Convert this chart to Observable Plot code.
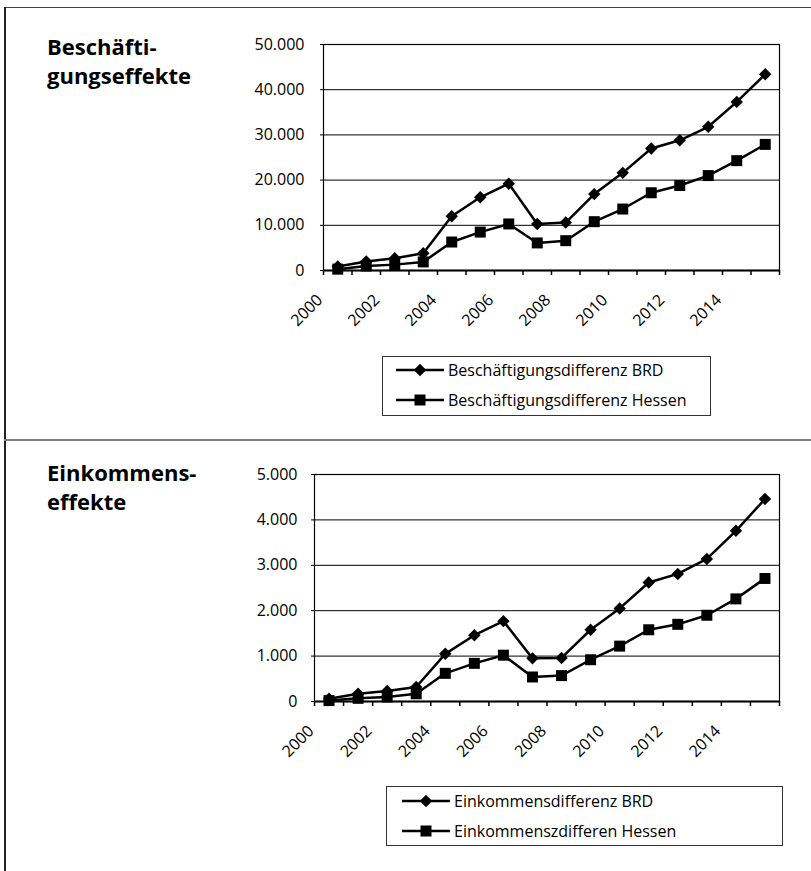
<!DOCTYPE html>
<html><head><meta charset="utf-8">
<script src="https://cdn.jsdelivr.net/npm/d3@7"></script>
<script src="https://cdn.jsdelivr.net/npm/@observablehq/plot@0.6"></script>
<style>
body{margin:0;background:#fff;font-family:"Open Sans",sans-serif;}
#page{position:relative;width:811px;height:871px;overflow:hidden;background:#fff;}
.line{position:absolute;}
.title{position:absolute;left:47px;font-weight:bold;font-size:22px;line-height:29px;color:#000;white-space:nowrap;}
.plot{position:absolute;left:0;}
.legend{position:absolute;box-sizing:border-box;border:1px solid #333;background:#fff;font-size:16px;color:#000;}
.row{position:absolute;height:24px;display:flex;align-items:center;white-space:nowrap;}
.row svg{display:block;}
</style></head>
<body><div id="page"></div>
<script>
// ---- data ----
const years = [2000,2001,2002,2003,2004,2005,2006,2007,2008,2009,2010,2011,2012,2013,2014,2015];
const xLabelYears = [2000,2002,2004,2006,2008,2010,2012,2014];
const beschBRD    = [900,2000,2700,3800,12000,16200,19200,10300,10600,16900,21600,27000,28800,31800,37300,43400];
const beschHessen = [300,1000,1300,1900,6300,8500,10300,6100,6600,10800,13600,17200,18800,21000,24300,27900];
const einkBRD     = [60,170,230,320,1050,1460,1770,950,960,1580,2050,2620,2810,3140,3760,4460];
const einkHessen  = [20,70,100,170,620,840,1020,540,570,920,1220,1580,1700,1900,2260,2710];
const yTicksBesch = [0,10000,20000,30000,40000,50000];
const yTicksEink  = [0,1000,2000,3000,4000,5000];
const seriesBesch = ["Beschäftigungsdifferenz BRD","Beschäftigungsdifferenz Hessen"];
const seriesEink  = ["Einkommensdifferenz BRD","Einkommenszdifferen Hessen"];
const titleBesch  = ["Beschäfti-","gungseffekte"];
const titleEink   = ["Einkommens-","effekte"];

const de = d3.formatLocale({decimal:",", thousands:".", grouping:[3], currency:["","€"]});
const fmt = de.format(",");
const page = document.getElementById("page");

function addDiv(cls, css, html){
  const d = document.createElement("div");
  d.className = cls; d.style.cssText = css; if (html != null) d.innerHTML = html;
  page.appendChild(d); return d;
}

// frame lines
addDiv("line","left:4px;top:7px;width:807px;height:1px;background:#444;");
addDiv("line","left:4px;top:7px;width:2px;height:864px;background:#222;");
addDiv("line","left:4px;top:439px;width:807px;height:2px;background:#808080;");

function chart(brd, hes, yTicks, names, o){
  const rows = years.flatMap((yr,i)=>[{year:yr, v:brd[i], s:names[0]}, {year:yr, v:hes[i], s:names[1]}]);
  const bounds = years.map(y=>y-0.5).concat([years[years.length-1]+0.5]);
  const mb = 75;
  return Plot.plot({
    width: 811,
    height: o.plotBottom - o.top + mb,
    marginLeft: o.left, marginRight: 811 - o.right,
    marginTop: o.plotTop - o.top, marginBottom: mb,
    style: {fontFamily:"'Open Sans', sans-serif", fontSize:"16px", color:"#000", background:"transparent", overflow:"visible"},
    x: {type:"linear", domain:[years[0]-0.5, years[years.length-1]+0.5], label:null},
    y: {domain:[0, yTicks[yTicks.length-1]], label:null},
    marks: [
      Plot.ruleY(yTicks, {stroke:"#000", strokeWidth:1}),
      Plot.frame({stroke:"#000", strokeWidth:1.2}),
      Plot.ruleY([0], {stroke:"#000", strokeWidth:2}),
      Plot.axisY(yTicks, {tickSize:3, tickPadding:o.ypad, tickFormat:fmt, fontSize:16, label:null}),
      Plot.axisX(bounds, {tickSize:5, tickFormat:()=>"", strokeWidth:1.5, label:null}),
      Plot.axisX(xLabelYears, {tickSize:0, tickRotate:-45, tickPadding:0, tickFormat:d=>String(d), dx:o.lx, dy:o.ly, fontSize:16, label:null}),
      Plot.line(rows, {x:"year", y:"v", z:"s", stroke:"#000", strokeWidth:2.5}),
      Plot.dot(rows.filter(d=>d.s===names[1]), {x:"year", y:"v", symbol:"square", r:6.2, fill:"#000"}),
      Plot.dot(rows.filter(d=>d.s===names[0]), {x:"year", y:"v", symbol:"diamond2", r:5.6, fill:"#000"})
    ]
  });
}

function swatch(symbolType, size){
  const w = 48, h = 20;
  const p = d3.symbol(symbolType, size)();
  return `<svg width="${w}" height="${h}"><line x1="0" y1="${h/2}" x2="${w}" y2="${h/2}" stroke="#000" stroke-width="2.5"/><path d="${p}" transform="translate(${w/2},${h/2})" fill="#000"/></svg>`;
}

function legend(names, o){
  const box = addDiv("legend", `left:${o.left}px;top:${o.top}px;width:${o.width}px;height:${o.height}px;`);
  const syms = [[d3.symbolDiamond2, 98], [d3.symbolSquare, 121]];
  names.forEach((n,i)=>{
    const r = document.createElement("div");
    r.className = "row";
    r.style.cssText = `left:${o.sx}px;top:${o.rows[i]-12}px;`;
    r.innerHTML = swatch(syms[i][0], syms[i][1]) + `<span style="margin-left:4px">${n}</span>`;
    box.appendChild(r);
  });
}

// titles
addDiv("title","top:32px;", titleBesch.join("<br>"));
addDiv("title","top:458px;", titleEink.join("<br>"));

// top chart
const p1 = chart(beschBRD, beschHessen, yTicksBesch, seriesBesch, {top:0, plotTop:44, plotBottom:270, left:323, right:779, ypad:16, lx:-18, ly:27});
p1.classList.add("plot"); p1.style.top = "0px"; page.appendChild(p1);
legend(seriesBesch, {left:382, top:356, width:329, height:60, sx:13, rows:[13, 43]});

// bottom chart
const p2 = chart(einkBRD, einkHessen, yTicksEink, seriesEink, {top:441, plotTop:474, plotBottom:701, left:314, right:779, ypad:14, lx:-18, ly:27});
p2.classList.add("plot"); p2.style.top = "441px"; page.appendChild(p2);
legend(seriesEink, {left:386, top:786, width:397, height:60, sx:15, rows:[14, 44]});
</script>
</body></html>
